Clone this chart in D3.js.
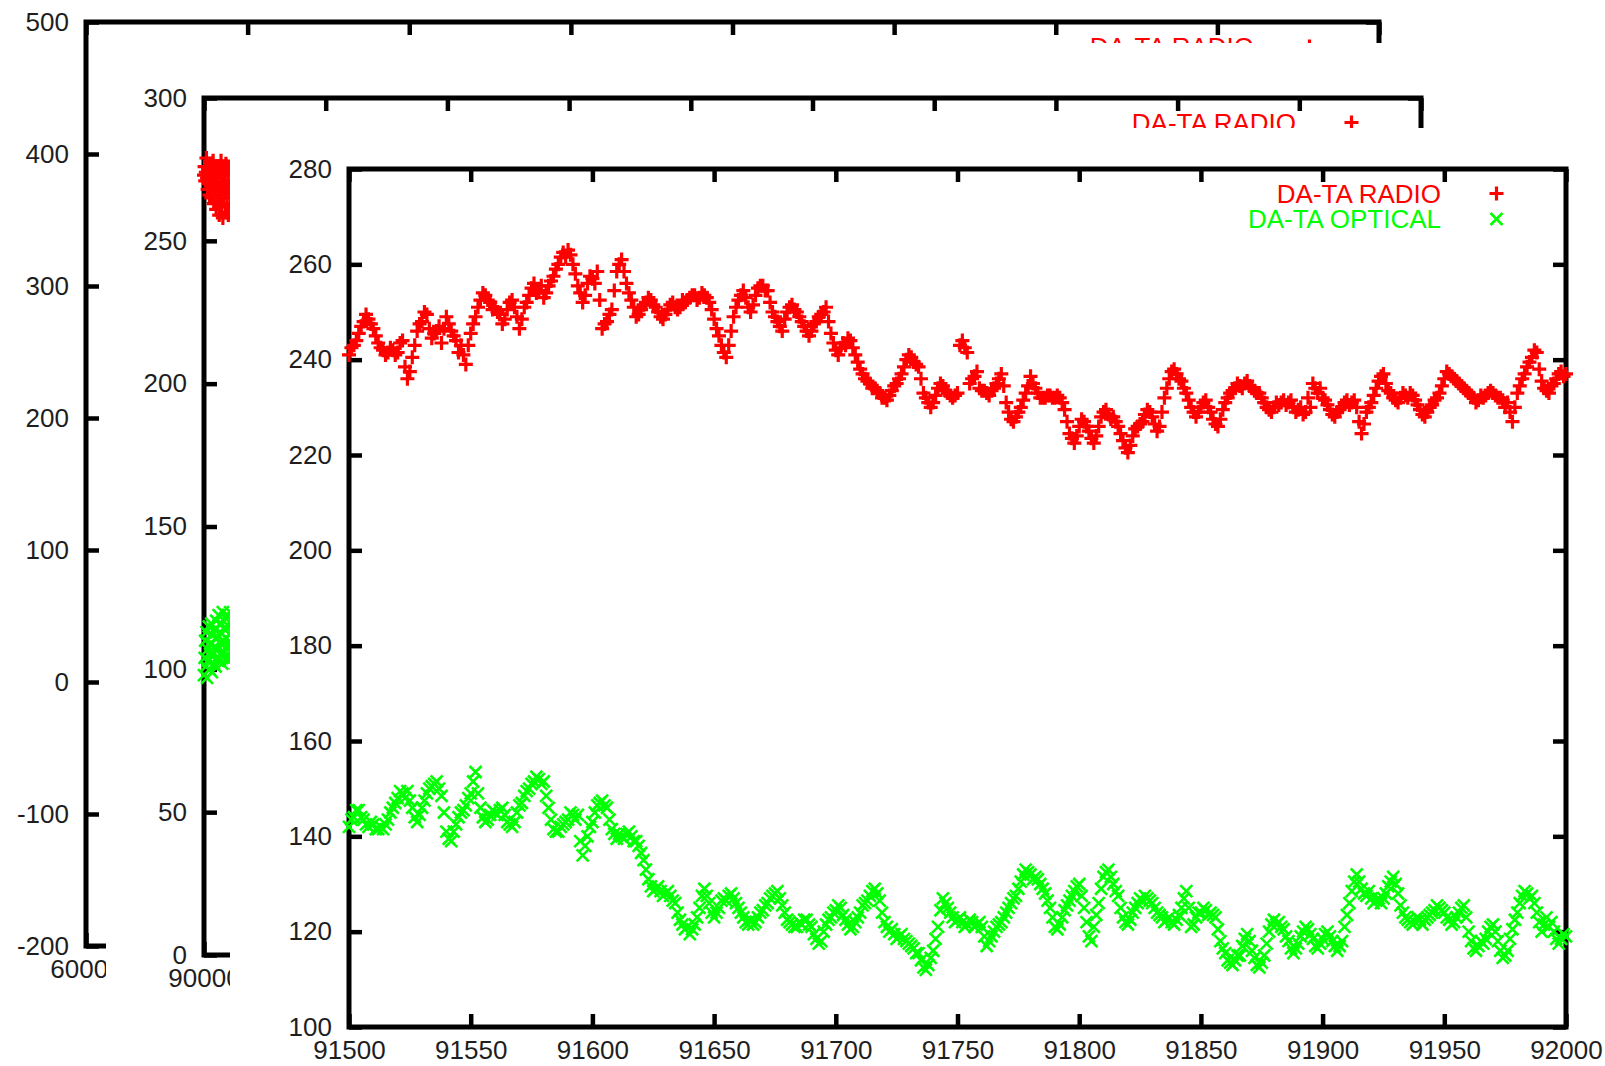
<!DOCTYPE html>
<html>
<head>
<meta charset="utf-8">
<script src="https://cdn.jsdelivr.net/npm/d3@7"></script>
<style>
  html, body { margin: 0; padding: 0; background: #fff; }
  svg { display: block; }
  text { font-family: "Liberation Sans", Arial, sans-serif; }
</style>
</head>
<body>
<svg id="chart" width="1605" height="1066"></svg>
<script>
// ---- light curves, 91500..92000: even days and odd days ----
const dayStart = 91500;

// days 91500, 91502, ... 92000
const radioEven = [
  241, 243, 245.5, 248, 248.5, 246.5, 243.5, 242, 241.5, 242,
  241.5, 244, 236, 240.5, 246, 248, 249.5, 244.5, 246, 243.5,
  249, 246, 244, 243, 239, 245.5, 249, 252.5, 253.5, 252,
  251, 249.5, 248.5, 252, 251, 246.5, 251, 253.5, 256, 254.5,
  253, 255.5, 257.5, 260, 262.5, 263, 260, 255.5, 252, 256,
  257, 258.5, 246.5, 248, 250.5, 258.5, 261, 256, 252.5, 249,
  250.5, 252, 252.5, 251, 249, 249.5, 251.5, 251, 251, 252,
  253, 253.5, 253, 253.5, 252, 248.5, 245, 241.5, 243, 249,
  252.5, 254.5, 251, 251.5, 255, 255.5, 254.5, 250, 248, 246,
  250, 251.5, 250, 248, 246, 246, 248, 249.5, 251, 245.5,
  242, 242.5, 243, 244, 241, 238, 236, 235, 234, 233,
  232, 232.5, 234.5, 236, 238.5, 241, 239.5, 238.5, 233, 231,
  231, 234, 234.5, 233, 232, 233, 244, 241.5, 236, 237.5,
  233.5, 233, 233.5, 235, 237, 231, 227.5, 228, 230, 233,
  236.5, 234, 232, 232, 232.5, 232, 232, 229.5, 224.5, 222.5,
  226, 227, 225, 222.5, 226, 229, 228.5, 228, 226, 223,
  220.5, 224, 226, 227, 229.5, 228, 225, 229, 234, 237.5,
  237, 235.5, 233, 230, 228, 230, 231.5, 229, 226.5, 227.5,
  231, 233, 234, 234.5, 235, 234.5, 233.5, 233, 231, 229.5,
  230, 230.5, 231.5, 231, 230, 229.5, 228.5, 232, 235, 233,
  232, 230.5, 228.5, 229, 230, 231.5, 231, 230, 224.5, 229,
  231, 234, 236.5, 235, 233, 231.5, 232, 232.5, 233, 231.5,
  229.5, 228, 230, 231.5, 233, 236, 237, 236, 235, 234,
  233, 232, 231.5, 232, 233, 233, 232, 231.5, 231, 227,
  233, 236, 238.5, 240.5, 241.5, 235.5, 233.5, 234.5, 236, 237.5,
  237
];

// days 91501, 91503, ... 91999
const radioOdd = [
  242.5, 244, 247, 249.5, 247.5, 245, 242.5, 241, 242.5, 241,
  243.5, 238.5, 237.5, 243, 247.5, 250, 246.5, 245.5, 247, 246.5,
  247.5, 245, 241.5, 241, 243, 247.5, 251, 254, 252.5, 250.5,
  250, 247.5, 250.5, 252.5, 249, 248.5, 252, 255, 254, 255.5,
  254, 256.5, 259, 261.5, 261.5, 262, 258, 254, 253.5, 257.5,
  256, 252.5, 247.5, 249.5, 254.5, 260, 258.5, 254, 251, 249.5,
  251.5, 253, 251.5, 250, 248.5, 250.5, 252, 250.5, 252.5, 252.5,
  253.5, 252.5, 254, 253, 250.5, 246.5, 243, 240.5, 246, 251,
  253.5, 253, 250, 253.5, 255.5, 254.5, 252, 249, 247, 248.5,
  251, 250.5, 249, 247, 245, 247.5, 249, 250, 248, 243.5,
  241, 243.5, 244.5, 242.5, 239.5, 237, 235.5, 234, 233.5, 232,
  231.5, 233.5, 235, 237, 240, 240.5, 239, 236, 232, 230,
  232.5, 235, 233.5, 232.5, 232.5, 243, 242.5, 235, 236.5, 234,
  233.5, 232.5, 234, 236, 234.5, 229, 227, 229, 231.5, 234.5,
  235, 233, 232, 232.5, 232, 232.5, 231, 227, 223.5, 224,
  227.5, 226, 223.5, 224, 228, 229.5, 227.5, 227, 224.5, 221.5,
  222, 225.5, 226.5, 228.5, 229, 226.5, 226, 232, 236, 238,
  236, 234, 231.5, 229, 229, 231, 230, 227.5, 226, 229.5,
  232, 233.5, 235, 234, 235.5, 234, 233, 232, 230, 229,
  231, 231, 230.5, 231.5, 229, 230, 229, 230, 234, 234,
  231.5, 229.5, 228, 229.5, 231, 230.5, 231.5, 227, 226.5, 230,
  232.5, 235.5, 237, 233.5, 232, 231, 233, 232, 232.5, 230.5,
  228.5, 229, 230.5, 232, 234.5, 237.5, 236.5, 235.5, 234.5, 233.5,
  232.5, 231, 232.5, 232.5, 233.5, 232.5, 232, 230, 229, 230,
  234.5, 237, 239.5, 242, 238, 234, 233, 235, 237, 236.5
];

const opticalEven = [
  142, 144, 145.5, 143.5, 142, 142.5, 141.5, 141.5, 143.5, 146,
  148, 149, 149.5, 146, 143, 146, 149, 150.5, 151.5, 148.5,
  141, 139, 142.5, 145, 146.5, 149, 153.5, 146, 143, 144.5,
  145, 145.5, 144.5, 142.5, 143, 146.5, 148.5, 150, 151.5, 152,
  151.5, 146, 141.5, 141, 142.5, 143.5, 144.5, 144.5, 136, 140,
  143, 146.5, 147.5, 146, 141.5, 139.5, 140, 140.5, 140, 139,
  136.5, 133, 129.5, 129, 128.5, 128, 127.5, 126, 122.5, 120.5,
  119.5, 121.5, 125, 129, 126, 123, 125, 127, 127.5, 127,
  125, 123, 121.5, 121.5, 123, 124.5, 126, 127.5, 128.5, 125.5,
  122.5, 121.5, 121, 121.5, 122.5, 121, 118.5, 118, 121.5, 123,
  124.5, 125, 122.5, 120.5, 122, 124, 126, 127.5, 129, 126.5,
  122, 120, 119.5, 119, 118.5, 117.5, 116.5, 115.5, 112.5, 113,
  116, 121, 127, 125, 123, 122.5, 122, 121.5, 122, 121.5,
  121, 117, 119, 121, 122, 124, 126, 127.5, 130.5, 133,
  132, 131.5, 130, 128, 125, 121, 121.5, 124.5, 126.5, 128.5,
  130, 125, 119, 121, 126, 131.5, 133, 130, 127.5, 123,
  121.5, 124, 126, 126.5, 127, 126, 124, 123, 122.5, 122,
  122.5, 125, 128.5, 121, 123, 124, 124.5, 124, 123, 118,
  115.5, 113.5, 114, 115, 118.5, 118, 114.5, 112.5, 115, 120,
  122.5, 122, 120.5, 118, 115.5, 117.5, 120, 120.5, 118.5, 116.5,
  118.5, 120, 118, 116, 118, 123.5, 128.5, 132, 129, 127.5,
  127, 126.5, 126, 128, 130.5, 130, 125.5, 123, 122, 122,
  122.5, 122.5, 123.5, 124.5, 125, 124, 122.5, 122, 124, 125.5,
  120, 116.5, 117, 117.5, 120, 121.5, 118, 114.5, 116, 120.5,
  124, 127.5, 128, 127.5, 124, 120, 123, 122, 118.5, 118.5,
  119
];

const opticalOdd = [
  143.5, 145.5, 144, 142.5, 143, 141.5, 142, 142.5, 145, 147,
  149.5, 148, 147.5, 144, 144.5, 147.5, 150, 151, 150, 145,
  139.5, 141, 144, 145.5, 148, 151.5, 149, 144, 143.5, 145.5,
  144.5, 146, 143, 142, 145, 147, 149.5, 151, 152.5, 151,
  148.5, 143.5, 141, 142, 143, 145, 143.5, 139, 138, 142,
  145, 147, 146.5, 143.5, 140.5, 140.5, 139.5, 141, 139, 138,
  135, 131, 128.5, 129.5, 127.5, 128.5, 126.5, 124, 121.5, 121,
  120.5, 123, 127.5, 127.5, 124, 124, 126.5, 126.5, 128, 126,
  124, 122, 122.5, 122, 124, 125.5, 127, 128, 127, 124,
  122, 121, 122, 122.5, 121.5, 119.5, 117.5, 120, 122.5, 124,
  125.5, 123.5, 121.5, 121, 123, 125.5, 126.5, 128.5, 128, 124,
  121, 120.5, 118.5, 119.5, 118, 117, 115.5, 114, 112, 114.5,
  118.5, 124.5, 126, 124, 122, 123, 121, 122.5, 121, 122,
  119, 118, 120, 121.5, 123, 125, 127, 129, 132, 132.5,
  131, 131, 129, 126.5, 123, 120.5, 123, 125.5, 127.5, 129.5,
  127.5, 122, 118, 123.5, 129, 132.5, 131.5, 128.5, 125, 122,
  122.5, 125, 127, 127.5, 126.5, 125, 123.5, 122, 123, 121.5,
  123.5, 127, 125, 121.5, 124, 125, 123.5, 123.5, 120.5, 116.5,
  114, 113, 115, 117, 119.5, 116, 113, 113.5, 117.5, 121.5,
  121.5, 121, 119, 116.5, 116.5, 119, 121, 119.5, 117, 117.5,
  119.5, 119, 117, 117, 121, 126, 130.5, 130.5, 128, 128.5,
  126, 127, 127, 129.5, 131.5, 128, 124, 122.5, 121.5, 123,
  121.5, 123, 124, 125.5, 124.5, 123, 121.5, 123, 125, 123,
  118, 116, 118, 118.5, 121, 120, 116, 115, 118.5, 122.5,
  126, 128.5, 127, 126, 122, 121.5, 121, 120, 117.5, 119.5
];

// ---- early segment in the middle window, 90000.. every 5 days ----
const earlyStart = 90000;
const earlyStep = 5;
const earlyRadio = [
  273, 276, 271, 274, 279, 272, 268, 275, 270, 266,
  277, 271, 265, 273, 269, 278, 263, 270, 274, 267,
  261, 272, 276, 264, 269, 259, 274, 266, 278, 262,
  270, 258, 275, 265, 271, 260, 277, 268, 263, 273,
  259, 267, 276, 262, 271, 265, 274, 260, 269, 277,
  263, 270, 258, 275, 266, 272, 261, 268, 276, 264, 270
];
const earlyOptical = [
  98, 104, 110, 101, 113, 97, 107, 103, 115, 100,
  109, 105, 116, 99, 112, 106, 102, 114, 108, 101,
  117, 104, 111, 107, 119, 103, 113, 109, 105, 116,
  102, 120, 110, 106, 114, 118, 104, 111, 108, 119,
  103, 115, 109, 120, 106, 113, 117, 104, 111, 118,
  107, 114, 102, 119, 110, 105, 116, 112, 108, 118, 104
];

// ---- key and tick labels ----
const legendLabels = ["DA-TA RADIO", "DA-TA OPTICAL"];
const outerXTicks = [60000, 65000, 70000, 75000, 80000, 85000, 90000, 95000, 100000];
const outerYTicks = [-200, -100, 0, 100, 200, 300, 400, 500];
const middleXTicks = [90000, 91000, 92000, 93000, 94000, 95000, 96000, 97000, 98000, 99000, 100000];
const middleYTicks = [0, 50, 100, 150, 200, 250, 300];
const innerXTicks = [91500, 91550, 91600, 91650, 91700, 91750, 91800, 91850, 91900, 91950, 92000];
const innerYTicks = [100, 120, 140, 160, 180, 200, 220, 240, 260, 280];

const RED = "#ff0000";
const GREEN = "#00ff00";

const bySteps = (start, step, vals) => vals.map((v, i) => ({ x: start + i * step, y: v }));
const daily = (even, odd) => bySteps(dayStart, 2, even).concat(bySteps(dayStart + 1, 2, odd))
  .sort((a, b) => a.x - b.x);

// three stacked plot windows, back to front
const plots = [
  { box: null, left: 86, right: 1379, top: 22, bottom: 946,
    xTicks: outerXTicks, yTicks: outerYTicks, xLabelled: [60000], keyRows: 1, series: [] },
  { box: { x: 106, y: 43 }, left: 204, right: 1421, top: 98, bottom: 955,
    xTicks: middleXTicks, yTicks: middleYTicks, xLabelled: [90000], keyRows: 1,
    series: [bySteps(earlyStart, earlyStep, earlyRadio), bySteps(earlyStart, earlyStep, earlyOptical)] },
  { box: { x: 230, y: 128 }, left: 349, right: 1566, top: 169, bottom: 1027,
    xTicks: innerXTicks, yTicks: innerYTicks, xLabelled: innerXTicks, keyRows: 2,
    series: [daily(radioEven, radioOdd), daily(opticalEven, opticalOdd)] }
];

const svg = d3.select("#chart");
svg.append("rect").attr("width", 1605).attr("height", 1066).attr("fill", "#fff");

const plusPath = "M-7,0H7M0,-7V7";
const crossPath = "M-6,-6L6,6M-6,6L6,-6";
const markStroke = [3.2, 2.6];
const FONT = 26;
const TICK = 13;

function styleAxis(g) {
  g.select(".domain").remove();
  g.selectAll(".tick line").attr("stroke", "#000").attr("stroke-width", 4.5);
  g.selectAll(".tick text")
    .attr("fill", "#1e1e1e")
    .style("font-size", FONT + "px")
    .style("font-family", "'Liberation Sans', Arial, sans-serif");
}

plots.forEach(p => {
  const g = svg.append("g");
  if (p.box) {
    g.append("rect").attr("x", p.box.x).attr("y", p.box.y)
      .attr("width", 1605 - p.box.x).attr("height", 1066 - p.box.y).attr("fill", "#fff");
  }
  const x = d3.scaleLinear().domain(d3.extent(p.xTicks)).range([p.left, p.right]);
  const y = d3.scaleLinear().domain(d3.extent(p.yTicks)).range([p.bottom, p.top]);

  // frame
  g.append("rect").attr("x", p.left).attr("y", p.top)
    .attr("width", p.right - p.left).attr("height", p.bottom - p.top)
    .attr("fill", "none").attr("stroke", "#000").attr("stroke-width", 5);

  // inward ticks on all four sides, labels on left and bottom
  g.append("g").attr("transform", `translate(0,${p.bottom})`)
    .call(d3.axisBottom(x).tickValues(p.xTicks).tickSize(-TICK).tickPadding(14)
      .tickFormat(d => p.xLabelled.includes(d) ? String(d) : ""))
    .call(styleAxis);
  g.append("g").attr("transform", `translate(0,${p.top})`)
    .call(d3.axisTop(x).tickValues(p.xTicks).tickSize(-TICK).tickFormat(""))
    .call(styleAxis);
  g.append("g").attr("transform", `translate(${p.left},0)`)
    .call(d3.axisLeft(y).tickValues(p.yTicks).tickSize(-TICK).tickPadding(17)
      .tickFormat(d => String(d)))
    .call(styleAxis);
  g.append("g").attr("transform", `translate(${p.right},0)`)
    .call(d3.axisRight(y).tickValues(p.yTicks).tickSize(-TICK).tickFormat(""))
    .call(styleAxis);
  g.selectAll(".tick text").filter(function () { return this.textContent === ""; }).remove();

  // key
  const key = g.append("g");
  legendLabels.slice(0, p.keyRows).forEach((label, i) => {
    const ky = p.top + 24.5 + i * 25.5;
    const col = i === 0 ? RED : GREEN;
    key.append("text")
      .attr("x", p.right - 125).attr("y", ky).attr("dy", "0.36em")
      .attr("text-anchor", "end").attr("fill", col)
      .style("font-size", FONT + "px").text(label);
    key.append("path")
      .attr("d", i === 0 ? plusPath : crossPath)
      .attr("transform", `translate(${p.right - 69.5},${ky})`)
      .attr("stroke", col).attr("stroke-width", markStroke[i]).attr("fill", "none");
  });

  // points
  p.series.forEach((s, i) => {
    g.append("g").selectAll("path").data(s).join("path")
      .attr("d", i === 0 ? plusPath : crossPath)
      .attr("transform", d => `translate(${x(d.x)},${y(d.y)})`)
      .attr("stroke", i === 0 ? RED : GREEN)
      .attr("stroke-width", markStroke[i])
      .attr("fill", "none");
  });
});
</script>
</body>
</html>
